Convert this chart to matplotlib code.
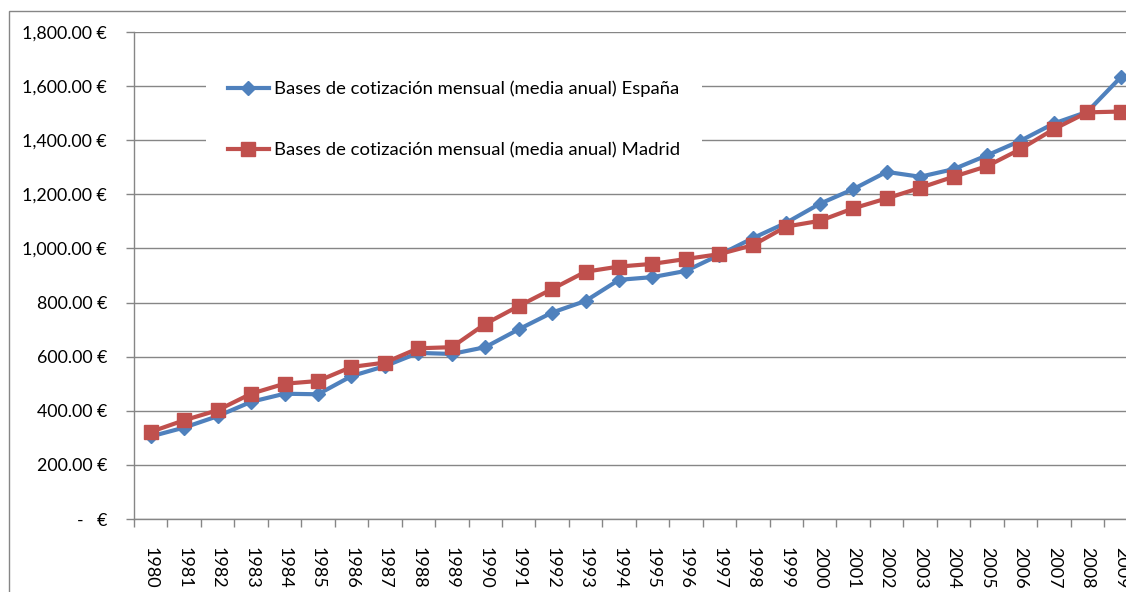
import numpy as np
import matplotlib.pyplot as plt
from matplotlib.patches import Rectangle
from matplotlib.ticker import FuncFormatter, MultipleLocator

plt.rcParams['font.family'] = ['Lato', 'DejaVu Sans']

# data (euros)
years = [str(y) for y in range(1980, 2010)]
espana = [305, 338, 380, 433, 463, 461, 528, 565, 614, 610,
          635, 701, 763, 806, 884, 894, 917, 976, 1038, 1095,
          1165, 1219, 1283, 1265, 1293, 1344, 1398, 1462, 1505, 1633]
madrid = [322, 365, 402, 463, 500, 510, 562, 578, 631, 635,
          721, 787, 850, 914, 933, 943, 961, 979, 1012, 1081,
          1102, 1148, 1185, 1224, 1265, 1304, 1367, 1441, 1503, 1506]
lab_es = 'Bases de cotización mensual (media anual) España'
lab_ma = 'Bases de cotización mensual (media anual) Madrid'

W, H = 1126, 592
fig = plt.figure(figsize=(W/100, H/100), dpi=100)
# plot area runs past the right edge, like the cropped original
ax = fig.add_axes([134/W, (H-519)/H, 1003.5/W, 487/H])

grey = '#868686'
x = np.arange(len(years))
ax.plot(x, espana, color='#4F81BD', lw=3, marker='D', ms=7,
        mec='#4F81BD', label=lab_es, zorder=3)
ax.plot(x, madrid, color='#C0504D', lw=3, marker='s', ms=10.5,
        mec='#C0504D', label=lab_ma, zorder=3)

ax.set_xlim(-0.5, len(years)-0.5)
ax.set_ylim(0, 1800)
ax.yaxis.set_major_locator(MultipleLocator(200))

def eur(v, pos):
    if v == 0:
        return '-   €'
    return f'{v:,.2f} €'
ax.yaxis.set_major_formatter(FuncFormatter(eur))
ax.grid(axis='y', color=grey, lw=1)
ax.set_axisbelow(True)

ax.set_xticks(x)
ax.set_xticklabels(years, rotation=-90, va='top', ha='center')
ax.set_xticks(np.arange(len(years)+1)-0.5, minor=True)
ax.tick_params(axis='x', which='major', length=0, pad=20, labelsize=13)
ax.tick_params(axis='x', which='minor', length=6, color=grey, width=1)
ax.tick_params(axis='y', length=6, color=grey, width=1, pad=13.5, labelsize=12.8)

for s in ['top', 'right']:
    ax.spines[s].set_visible(False)
for s in ['left', 'bottom']:
    ax.spines[s].set_color(grey)
    ax.spines[s].set_linewidth(1)

leg = ax.legend(loc='center', bbox_to_anchor=(454/W, 1-119.5/H),
                bbox_transform=fig.transFigure, fontsize=13.3, frameon=True,
                fancybox=False, edgecolor='none', facecolor='white',
                framealpha=1, handlelength=2.2, handletextpad=0.27,
                labelspacing=2.45, borderpad=1.2)

# outer chart border
fig.patches.append(Rectangle((9/W, -0.1), 1.2, 1-11/H+0.1, fill=False,
                             edgecolor=grey, lw=1, transform=fig.transFigure))

fig.savefig('out.png', dpi=100)
